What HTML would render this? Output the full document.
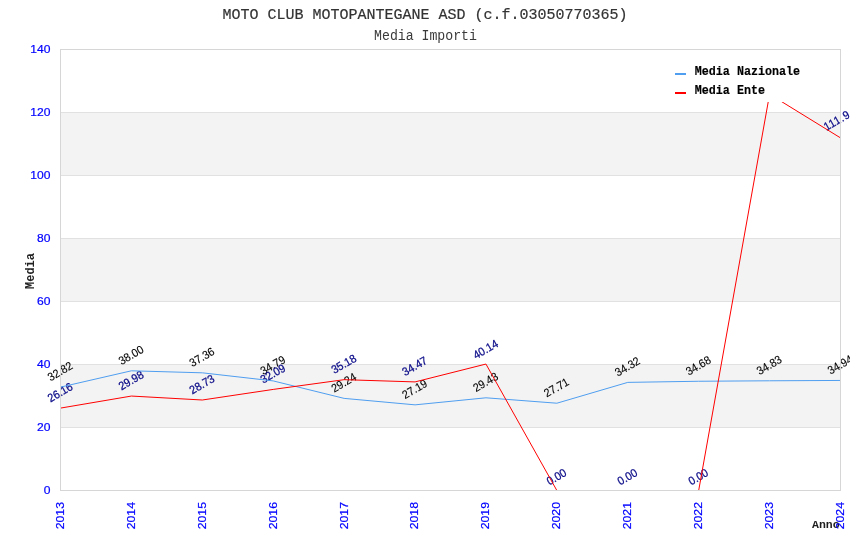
<!DOCTYPE html>
<html><head><meta charset="utf-8"><style>
html,body{margin:0;padding:0;background:#fff;}
body{width:850px;height:550px;overflow:hidden;}
svg{display:block;will-change:transform;}
.mono{font-family:"Liberation Mono",monospace;}
.sans{font-family:"Liberation Sans",sans-serif;}
</style></head><body>
<svg width="850" height="550" viewBox="0 0 850 550">
<rect x="0" y="0" width="850" height="550" fill="#ffffff"/>
<rect x="60" y="364" width="780" height="63" fill="#f3f3f3"/>
<rect x="60" y="238" width="780" height="63" fill="#f3f3f3"/>
<rect x="60" y="112" width="780" height="63" fill="#f3f3f3"/>
<rect x="60" y="427" width="780" height="1" fill="#e1e1e1"/>
<rect x="60" y="364" width="780" height="1" fill="#e1e1e1"/>
<rect x="60" y="301" width="780" height="1" fill="#e1e1e1"/>
<rect x="60" y="238" width="780" height="1" fill="#e1e1e1"/>
<rect x="60" y="175" width="780" height="1" fill="#e1e1e1"/>
<rect x="60" y="112" width="780" height="1" fill="#e1e1e1"/>
<defs><clipPath id="pc"><rect x="60" y="49" width="781" height="441"/></clipPath></defs>
<g transform="translate(60.00 371.22) rotate(-30) scale(1 1.08)"><text class="sans" x="0" y="0" font-size="10.7" fill="#000" stroke="#000" stroke-width="0.12" text-anchor="middle" dominant-baseline="central">32.82</text></g>
<g transform="translate(60.00 392.20) rotate(-30) scale(1 1.08)"><text class="sans" x="0" y="0" font-size="10.7" fill="#0a0a88" stroke="#0a0a88" stroke-width="0.25" text-anchor="middle" dominant-baseline="central">26.16</text></g>
<g transform="translate(130.91 354.90) rotate(-30) scale(1 1.08)"><text class="sans" x="0" y="0" font-size="10.7" fill="#000" stroke="#000" stroke-width="0.12" text-anchor="middle" dominant-baseline="central">38.00</text></g>
<g transform="translate(130.91 380.16) rotate(-30) scale(1 1.08)"><text class="sans" x="0" y="0" font-size="10.7" fill="#0a0a88" stroke="#0a0a88" stroke-width="0.25" text-anchor="middle" dominant-baseline="central">29.98</text></g>
<g transform="translate(201.82 356.92) rotate(-30) scale(1 1.08)"><text class="sans" x="0" y="0" font-size="10.7" fill="#000" stroke="#000" stroke-width="0.12" text-anchor="middle" dominant-baseline="central">37.36</text></g>
<g transform="translate(201.82 384.10) rotate(-30) scale(1 1.08)"><text class="sans" x="0" y="0" font-size="10.7" fill="#0a0a88" stroke="#0a0a88" stroke-width="0.25" text-anchor="middle" dominant-baseline="central">28.73</text></g>
<g transform="translate(272.73 365.01) rotate(-30) scale(1 1.08)"><text class="sans" x="0" y="0" font-size="10.7" fill="#000" stroke="#000" stroke-width="0.12" text-anchor="middle" dominant-baseline="central">34.79</text></g>
<g transform="translate(272.73 373.52) rotate(-30) scale(1 1.08)"><text class="sans" x="0" y="0" font-size="10.7" fill="#0a0a88" stroke="#0a0a88" stroke-width="0.25" text-anchor="middle" dominant-baseline="central">32.09</text></g>
<g transform="translate(343.64 382.49) rotate(-30) scale(1 1.08)"><text class="sans" x="0" y="0" font-size="10.7" fill="#000" stroke="#000" stroke-width="0.12" text-anchor="middle" dominant-baseline="central">29.24</text></g>
<g transform="translate(343.64 363.78) rotate(-30) scale(1 1.08)"><text class="sans" x="0" y="0" font-size="10.7" fill="#0a0a88" stroke="#0a0a88" stroke-width="0.25" text-anchor="middle" dominant-baseline="central">35.18</text></g>
<g transform="translate(414.55 388.95) rotate(-30) scale(1 1.08)"><text class="sans" x="0" y="0" font-size="10.7" fill="#000" stroke="#000" stroke-width="0.12" text-anchor="middle" dominant-baseline="central">27.19</text></g>
<g transform="translate(414.55 366.02) rotate(-30) scale(1 1.08)"><text class="sans" x="0" y="0" font-size="10.7" fill="#0a0a88" stroke="#0a0a88" stroke-width="0.25" text-anchor="middle" dominant-baseline="central">34.47</text></g>
<g transform="translate(485.45 381.90) rotate(-30) scale(1 1.08)"><text class="sans" x="0" y="0" font-size="10.7" fill="#000" stroke="#000" stroke-width="0.12" text-anchor="middle" dominant-baseline="central">29.43</text></g>
<g transform="translate(485.45 349.16) rotate(-30) scale(1 1.08)"><text class="sans" x="0" y="0" font-size="10.7" fill="#0a0a88" stroke="#0a0a88" stroke-width="0.25" text-anchor="middle" dominant-baseline="central">40.14</text></g>
<g transform="translate(556.36 387.31) rotate(-30) scale(1 1.08)"><text class="sans" x="0" y="0" font-size="10.7" fill="#000" stroke="#000" stroke-width="0.12" text-anchor="middle" dominant-baseline="central">27.71</text></g>
<g transform="translate(556.36 476.60) rotate(-30) scale(1 1.08)"><text class="sans" x="0" y="0" font-size="10.7" fill="#0a0a88" stroke="#0a0a88" stroke-width="0.25" text-anchor="middle" dominant-baseline="central">0.00</text></g>
<g transform="translate(627.27 366.49) rotate(-30) scale(1 1.08)"><text class="sans" x="0" y="0" font-size="10.7" fill="#000" stroke="#000" stroke-width="0.12" text-anchor="middle" dominant-baseline="central">34.32</text></g>
<g transform="translate(627.27 476.60) rotate(-30) scale(1 1.08)"><text class="sans" x="0" y="0" font-size="10.7" fill="#0a0a88" stroke="#0a0a88" stroke-width="0.25" text-anchor="middle" dominant-baseline="central">0.00</text></g>
<g transform="translate(698.18 365.36) rotate(-30) scale(1 1.08)"><text class="sans" x="0" y="0" font-size="10.7" fill="#000" stroke="#000" stroke-width="0.12" text-anchor="middle" dominant-baseline="central">34.68</text></g>
<g transform="translate(698.18 476.60) rotate(-30) scale(1 1.08)"><text class="sans" x="0" y="0" font-size="10.7" fill="#0a0a88" stroke="#0a0a88" stroke-width="0.25" text-anchor="middle" dominant-baseline="central">0.00</text></g>
<g transform="translate(769.09 364.89) rotate(-30) scale(1 1.08)"><text class="sans" x="0" y="0" font-size="10.7" fill="#000" stroke="#000" stroke-width="0.12" text-anchor="middle" dominant-baseline="central">34.83</text></g>
<g transform="translate(769.09 77.33) rotate(-30) scale(1 1.08)"><text class="sans" x="0" y="0" font-size="10.7" fill="#0a0a88" stroke="#0a0a88" stroke-width="0.25" text-anchor="middle" dominant-baseline="central">125.50</text></g>
<g transform="translate(840.00 364.54) rotate(-30) scale(1 1.08)"><text class="sans" x="0" y="0" font-size="10.7" fill="#000" stroke="#000" stroke-width="0.12" text-anchor="middle" dominant-baseline="central">34.94</text></g>
<g transform="translate(839.70 118.69) rotate(-30) scale(1 1.08)"><text class="sans" x="0" y="0" font-size="10.7" fill="#0a0a88" stroke="#0a0a88" stroke-width="0.25" text-anchor="middle" dominant-baseline="central" letter-spacing="0.7">111.94</text></g>
<polyline clip-path="url(#pc)" points="60.50,387.12 131.41,370.80 202.32,372.82 273.23,380.91 344.14,398.39 415.05,404.85 485.95,397.80 556.86,403.21 627.77,382.39 698.68,381.26 769.59,380.79 840.50,380.44" fill="none" stroke="#4f9ef0" stroke-width="1"/>
<polyline clip-path="url(#pc)" points="60.50,408.10 131.41,396.06 202.32,400.00 273.23,389.42 344.14,379.68 415.05,381.92 485.95,364.06 556.86,490.50 627.77,490.50 698.68,490.50 769.59,94.23 840.50,137.89" fill="none" stroke="#ff0000" stroke-width="1"/>
<rect x="60" y="49" width="780" height="1" fill="#d6d6d6"/>
<rect x="60" y="490" width="781" height="1" fill="#d6d6d6"/>
<rect x="60" y="49" width="1" height="441" fill="#d6d6d6"/>
<rect x="840" y="49" width="1" height="441" fill="#d6d6d6"/>
<g transform="translate(50.5 490.00) scale(1.05 1)"><text class="sans" x="0" y="0" font-size="11.5" fill="#0000ff" stroke="#0000ff" stroke-width="0.2" text-anchor="end" dominant-baseline="central">0</text></g>
<g transform="translate(50.5 427.00) scale(1.05 1)"><text class="sans" x="0" y="0" font-size="11.5" fill="#0000ff" stroke="#0000ff" stroke-width="0.2" text-anchor="end" dominant-baseline="central">20</text></g>
<g transform="translate(50.5 364.00) scale(1.05 1)"><text class="sans" x="0" y="0" font-size="11.5" fill="#0000ff" stroke="#0000ff" stroke-width="0.2" text-anchor="end" dominant-baseline="central">40</text></g>
<g transform="translate(50.5 301.00) scale(1.05 1)"><text class="sans" x="0" y="0" font-size="11.5" fill="#0000ff" stroke="#0000ff" stroke-width="0.2" text-anchor="end" dominant-baseline="central">60</text></g>
<g transform="translate(50.5 238.00) scale(1.05 1)"><text class="sans" x="0" y="0" font-size="11.5" fill="#0000ff" stroke="#0000ff" stroke-width="0.2" text-anchor="end" dominant-baseline="central">80</text></g>
<g transform="translate(50.5 175.00) scale(1.05 1)"><text class="sans" x="0" y="0" font-size="11.5" fill="#0000ff" stroke="#0000ff" stroke-width="0.2" text-anchor="end" dominant-baseline="central">100</text></g>
<g transform="translate(50.5 112.00) scale(1.05 1)"><text class="sans" x="0" y="0" font-size="11.5" fill="#0000ff" stroke="#0000ff" stroke-width="0.2" text-anchor="end" dominant-baseline="central">120</text></g>
<g transform="translate(50.5 49.00) scale(1.05 1)"><text class="sans" x="0" y="0" font-size="11.5" fill="#0000ff" stroke="#0000ff" stroke-width="0.2" text-anchor="end" dominant-baseline="central">140</text></g>
<text class="mono" x="812" y="528" font-size="11.5" font-weight="bold" fill="#1e1e1e">Anno</text>
<g transform="translate(60.00 502) rotate(-90) scale(1.07 1)"><text class="sans" x="0" y="0" font-size="11.5" fill="#0000ff" stroke="#0000ff" stroke-width="0.2" text-anchor="end" dominant-baseline="central">2013</text></g>
<g transform="translate(130.91 502) rotate(-90) scale(1.07 1)"><text class="sans" x="0" y="0" font-size="11.5" fill="#0000ff" stroke="#0000ff" stroke-width="0.2" text-anchor="end" dominant-baseline="central">2014</text></g>
<g transform="translate(201.82 502) rotate(-90) scale(1.07 1)"><text class="sans" x="0" y="0" font-size="11.5" fill="#0000ff" stroke="#0000ff" stroke-width="0.2" text-anchor="end" dominant-baseline="central">2015</text></g>
<g transform="translate(272.73 502) rotate(-90) scale(1.07 1)"><text class="sans" x="0" y="0" font-size="11.5" fill="#0000ff" stroke="#0000ff" stroke-width="0.2" text-anchor="end" dominant-baseline="central">2016</text></g>
<g transform="translate(343.64 502) rotate(-90) scale(1.07 1)"><text class="sans" x="0" y="0" font-size="11.5" fill="#0000ff" stroke="#0000ff" stroke-width="0.2" text-anchor="end" dominant-baseline="central">2017</text></g>
<g transform="translate(414.55 502) rotate(-90) scale(1.07 1)"><text class="sans" x="0" y="0" font-size="11.5" fill="#0000ff" stroke="#0000ff" stroke-width="0.2" text-anchor="end" dominant-baseline="central">2018</text></g>
<g transform="translate(485.45 502) rotate(-90) scale(1.07 1)"><text class="sans" x="0" y="0" font-size="11.5" fill="#0000ff" stroke="#0000ff" stroke-width="0.2" text-anchor="end" dominant-baseline="central">2019</text></g>
<g transform="translate(556.36 502) rotate(-90) scale(1.07 1)"><text class="sans" x="0" y="0" font-size="11.5" fill="#0000ff" stroke="#0000ff" stroke-width="0.2" text-anchor="end" dominant-baseline="central">2020</text></g>
<g transform="translate(627.27 502) rotate(-90) scale(1.07 1)"><text class="sans" x="0" y="0" font-size="11.5" fill="#0000ff" stroke="#0000ff" stroke-width="0.2" text-anchor="end" dominant-baseline="central">2021</text></g>
<g transform="translate(698.18 502) rotate(-90) scale(1.07 1)"><text class="sans" x="0" y="0" font-size="11.5" fill="#0000ff" stroke="#0000ff" stroke-width="0.2" text-anchor="end" dominant-baseline="central">2022</text></g>
<g transform="translate(769.09 502) rotate(-90) scale(1.07 1)"><text class="sans" x="0" y="0" font-size="11.5" fill="#0000ff" stroke="#0000ff" stroke-width="0.2" text-anchor="end" dominant-baseline="central">2023</text></g>
<g transform="translate(840.00 502) rotate(-90) scale(1.07 1)"><text class="sans" x="0" y="0" font-size="11.5" fill="#0000ff" stroke="#0000ff" stroke-width="0.2" text-anchor="end" dominant-baseline="central">2024</text></g>
<rect x="655" y="50" width="184" height="52" fill="#ffffff"/>
<rect x="675" y="73" width="11" height="2" fill="#4f9ef0"/>
<rect x="675" y="92" width="11" height="2" fill="#ff0000"/>
<g transform="translate(694.8 75) scale(1 1.05)"><text class="mono" x="0" y="0" font-size="11.7" font-weight="bold" fill="#000" stroke="#000" stroke-width="0.15">Media Nazionale</text></g>
<g transform="translate(694.8 94) scale(1 1.05)"><text class="mono" x="0" y="0" font-size="11.7" font-weight="bold" fill="#000" stroke="#000" stroke-width="0.15">Media Ente</text></g>
<text class="mono" x="425" y="19" font-size="15" fill="#333" stroke="#333" stroke-width="0.2" text-anchor="middle">MOTO CLUB MOTOPANTEGANE ASD (c.f.03050770365)</text>
<g transform="translate(425.5 39.8) scale(1 1.05)"><text class="mono" x="0" y="0" font-size="13.2" fill="#3a3a3a" stroke="#3a3a3a" stroke-width="0" text-anchor="middle">Media Importi</text></g>
<text class="mono" x="33.8" y="271" font-size="12" font-weight="bold" fill="#222" text-anchor="middle" transform="rotate(-90 33.8 271)">Media</text>
</svg></body></html>
